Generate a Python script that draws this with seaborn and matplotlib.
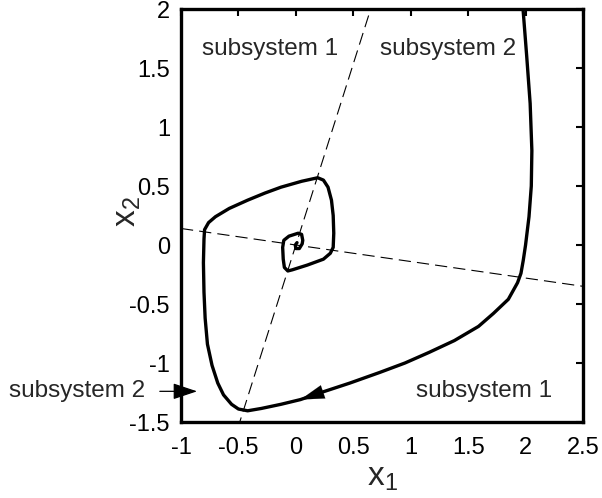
import numpy as np
import pandas as pd
import matplotlib
matplotlib.use("Agg")
import matplotlib.pyplot as plt
import seaborn as sns

# Phase-plane trajectory of the switched system (x1, x2)
traj_x1 = [1.97, 2.01, 2.04, 2.055, 2.05, 2.03, 2.0, 1.98, 1.96, 1.93, 1.85, 1.72,
           1.59, 1.38, 1.16, 0.95, 0.73, 0.47, 0.22, 0.04, -0.13, -0.30, -0.42,
           -0.50, -0.56, -0.63, -0.68, -0.73, -0.77, -0.79, -0.80, -0.805, -0.80,
           -0.795, -0.76, -0.70, -0.58, -0.42, -0.27, -0.13, 0.05, 0.19, 0.24, 0.28,
           0.31, 0.325, 0.33, 0.325, 0.30, 0.24, 0.10, -0.03, -0.07, -0.10, -0.11,
           -0.115, -0.105, -0.06, 0.02, 0.05, 0.06, 0.055, 0.03, 0.0, -0.005, 0.01]
traj_x2 = [2.1, 1.6, 1.2, 0.8, 0.5, 0.24, 0.0, -0.13, -0.24, -0.32, -0.46, -0.58,
           -0.69, -0.81, -0.91, -1.0, -1.08, -1.17, -1.25, -1.31, -1.35, -1.385, -1.405,
           -1.39, -1.35, -1.27, -1.17, -1.02, -0.84, -0.62, -0.40, -0.15, 0.05,
           0.13, 0.19, 0.24, 0.31, 0.38, 0.44, 0.49, 0.54, 0.57, 0.55, 0.49,
           0.38, 0.25, 0.10, -0.02, -0.07, -0.12, -0.17, -0.21, -0.22, -0.19, -0.12,
           -0.02, 0.04, 0.075, 0.10, 0.09, 0.04, 0.01, -0.03, -0.03, 0.0, 0.02]

# Switching lines through the origin: x2 = k * x1
switch_slopes = [3.07, -0.14]
line_x1 = [-1.0, 2.5]

region_labels = ["subsystem 1", "subsystem 2", "subsystem 1"]
region_pos = [(-0.82, 1.66), (0.73, 1.66), (1.05, -1.24)]
outside_label = "subsystem 2"

x_ticks = [-1, -0.5, 0, 0.5, 1, 1.5, 2, 2.5]
y_ticks = [-1.5, -1, -0.5, 0, 0.5, 1, 1.5, 2]

sns.set_theme(style="white")
plt.rcParams["font.family"] = ["Liberation Sans", "DejaVu Sans"]
plt.rcParams["mathtext.fontset"] = "custom"
plt.rcParams["mathtext.rm"] = "Liberation Sans"

fig = plt.figure(figsize=(6.02, 4.98), dpi=100)
ax = fig.add_axes([0.3007, 0.1526, 0.6677, 0.8293])

# dashed switching lines
for k in switch_slopes:
    df_line = pd.DataFrame({"x1": line_x1, "x2": [k * v for v in line_x1]})
    sns.lineplot(data=df_line, x="x1", y="x2", sort=False, estimator=None, ax=ax,
                 color="black", lw=0.8, linestyle=(0, (11, 5.5)))

# trajectory
df_traj = pd.DataFrame({"x1": traj_x1, "x2": traj_x2})
sns.lineplot(data=df_traj, x="x1", y="x2", sort=False, estimator=None, ax=ax,
             color="black", lw=2.4, solid_capstyle="round", solid_joinstyle="round")

# direction arrowhead on trajectory
ax.annotate("", xy=(traj_x1[19], traj_x2[19]), xytext=(traj_x1[18], traj_x2[18]),
            arrowprops=dict(arrowstyle="-|>,head_length=0.85,head_width=0.25",
                            mutation_scale=20, color="black", lw=0.1,
                            shrinkA=0, shrinkB=0))

ax.set_xlim(-1, 2.5)
ax.set_ylim(-1.5, 2)
ax.set_xticks(x_ticks)
ax.set_xticklabels([f"{v:g}" for v in x_ticks])
ax.set_yticks(y_ticks)
ax.set_yticklabels([f"{v:g}" for v in y_ticks])
ax.tick_params(direction="in", length=5, width=1.5, labelsize=17, colors="black",
               top=True, right=True, pad=8)
ax.tick_params(axis="x", pad=11)
for s in ax.spines.values():
    s.set_linewidth(2.4)
    s.set_color("black")

ax.set_xlabel(r"$\mathregular{x_1}$", fontsize=24, labelpad=2)
ax.set_ylabel(r"$\mathregular{x_2}$", fontsize=24)
ax.yaxis.set_label_coords(-0.095, 0.51)

for lab, (px, py) in zip(region_labels, region_pos):
    ax.text(px, py, lab, fontsize=17.5, ha="left", va="center")

ax.annotate(outside_label, xy=(-0.86, -1.24), xytext=(-1.31, -1.24),
            fontsize=17.5, ha="right", va="center", annotation_clip=False,
            arrowprops=dict(arrowstyle="-|>,head_length=0.75,head_width=0.25",
                            mutation_scale=20, color="black", lw=0.9,
                            shrinkA=8, shrinkB=0))

fig.savefig("out.png", dpi=100)
